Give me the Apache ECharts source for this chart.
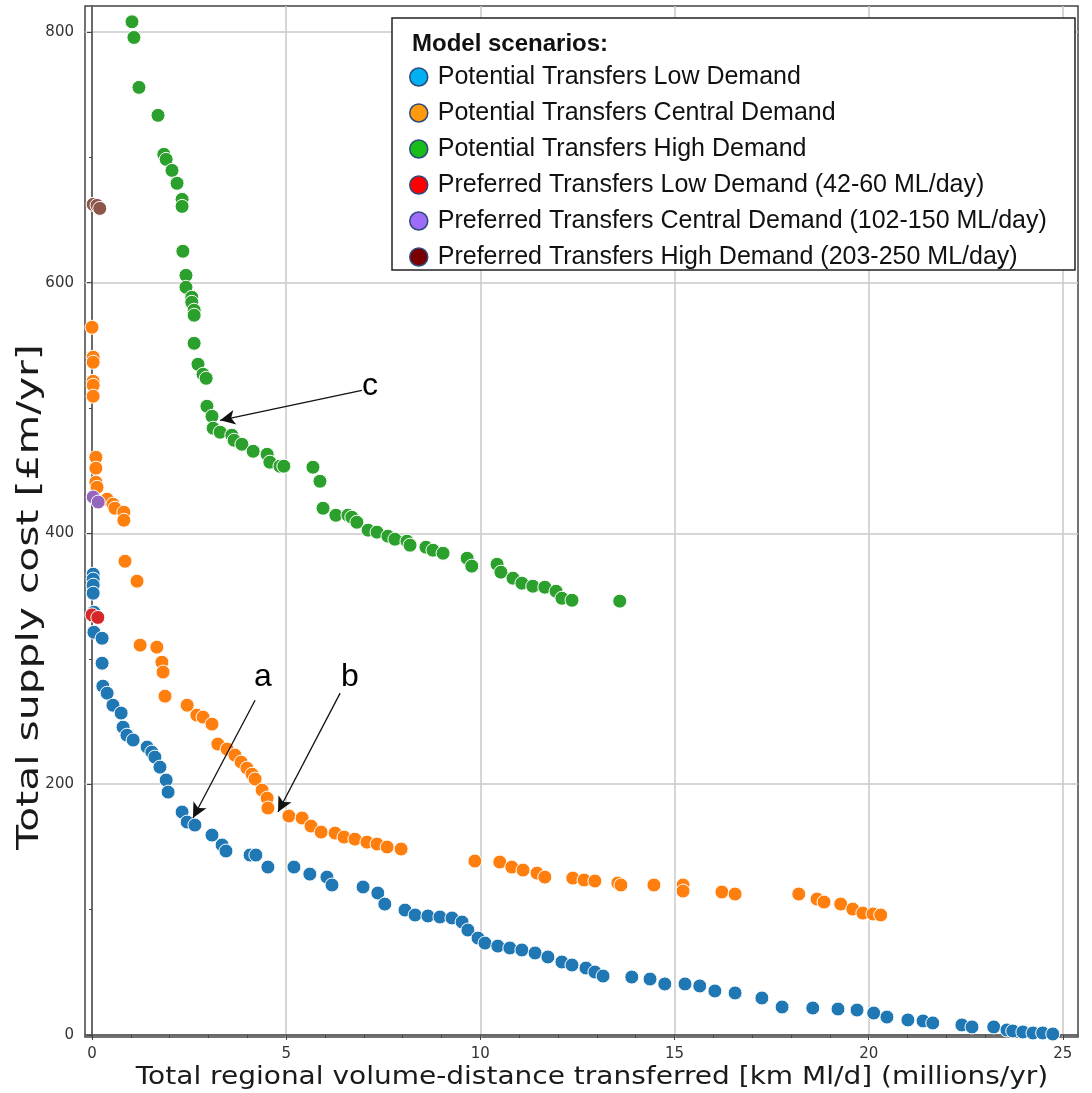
<!DOCTYPE html>
<html>
<head>
<meta charset="utf-8">
<script src="https://cdn.jsdelivr.net/npm/echarts@6/dist/echarts.min.js"></script>
<style>
html,body{margin:0;padding:0;background:#fff;}
#chart{width:1092px;height:1093px;}
</style>
</head>
<body>
<div id="chart"></div>
<script>
// ---- data (x: millions/yr, y: £m/yr) ----
const lowDemand = [
[0.03,367.5],[0.03,363.5],[0.03,358.7],[0.03,352.3],[0.05,337.2],[0.05,321.2],[0.26,316.4],[0.26,296.5],
[0.28,278.2],[0.39,272.6],[0.54,263.0],[0.75,256.7],[0.80,245.5],[0.90,239.1],[1.06,235.2],[1.42,229.6],
[1.54,225.6],[1.62,221.6],[1.75,213.6],[1.91,203.3],[1.96,193.7],[2.32,177.8],[2.45,169.8],[2.65,167.4],
[3.09,159.4],[3.35,151.5],[3.45,146.7],[4.07,143.5],[4.22,143.5],[4.53,133.9],[5.20,133.9],[5.61,128.3],
[6.05,125.9],[6.18,119.6],[6.98,118.0],[7.36,113.2],[7.54,104.4],[8.06,99.6],[8.32,95.7],[8.65,94.9],
[8.96,94.1],[9.27,93.3],[9.53,90.1],[9.68,83.7],[9.94,77.3],[10.12,73.3],[10.45,70.9],[10.76,69.4],
[11.07,67.8],[11.41,65.4],[11.74,62.2],[12.10,58.2],[12.36,55.8],[12.72,53.4],[12.95,50.2],[13.16,47.0],
[13.90,46.2],[14.37,44.6],[14.75,40.7],[15.27,40.7],[15.65,39.1],[16.04,35.1],[16.56,33.5],[17.25,29.5],
[17.77,22.3],[18.56,21.5],[19.21,20.7],[19.70,19.9],[20.13,17.5],[20.47,14.3],[21.01,12.0],[21.40,11.2],
[21.65,9.6],[22.40,8.0],[22.66,6.4],[23.22,6.4],[23.56,4.0],[23.71,3.2],[23.97,2.4],[24.23,1.6],
[24.48,1.6],[24.74,0.8]
];
const centralDemand = [
[0.00,564.4],[0.03,540.5],[0.03,536.5],[0.03,521.3],[0.03,518.1],[0.03,509.4],[0.10,460.7],[0.10,452.0],
[0.10,440.8],[0.13,436.8],[0.39,427.3],[0.54,423.3],[0.59,420.1],[0.82,416.9],[0.82,410.5],[0.85,377.8],
[1.16,361.9],[1.24,310.9],[1.67,309.3],[1.80,297.3],[1.83,289.4],[1.88,270.2],[2.45,263.0],[2.70,255.1],
[2.86,253.5],[3.09,247.9],[3.24,232.0],[3.48,228.0],[3.68,223.2],[3.84,217.6],[3.99,212.8],[4.12,208.0],
[4.20,204.1],[4.38,195.3],[4.51,188.9],[4.53,181.0],[5.07,174.6],[5.41,173.0],[5.64,166.6],[5.90,161.8],
[6.26,161.0],[6.49,157.8],[6.77,156.2],[7.08,153.8],[7.34,152.3],[7.60,149.9],[7.96,148.3],[9.86,138.7],
[10.50,137.9],[10.81,133.9],[11.10,131.5],[11.46,129.1],[11.66,125.9],[12.38,125.1],[12.67,123.6],[12.95,122.8],
[13.54,121.2],[13.62,119.6],[14.47,119.6],[15.22,119.6],[15.22,114.8],[16.22,114.0],[16.56,112.4],[18.20,112.4],
[18.67,108.4],[18.85,106.0],[19.28,104.4],[19.59,100.4],[19.85,97.2],[20.11,96.5],[20.31,95.7]
];
const highDemand = [
[1.03,808.0],[1.08,795.5],[1.21,755.7],[1.70,733.4],[1.85,702.3],[1.91,698.3],[2.06,689.5],[2.19,679.2],
[2.32,666.4],[2.32,660.8],[2.34,625.0],[2.42,605.8],[2.42,596.3],[2.57,588.3],[2.57,584.3],[2.63,578.0],
[2.63,574.0],[2.63,551.6],[2.73,534.9],[2.86,526.9],[2.94,523.7],[2.96,501.4],[3.09,493.4],[3.12,483.9],
[3.30,480.7],[3.60,478.3],[3.66,474.3],[3.86,471.1],[4.15,465.5],[4.51,463.1],[4.58,456.8],[4.84,453.6],
[4.94,453.6],[5.69,452.8],[5.87,441.6],[5.95,420.1],[6.28,414.5],[6.59,414.5],[6.69,412.9],[6.82,408.9],
[7.11,402.6],[7.34,401.0],[7.62,397.8],[7.80,395.4],[8.11,393.8],[8.19,390.6],[8.60,389.0],[8.78,386.6],
[9.04,384.2],[9.66,380.2],[9.78,373.9],[10.43,375.4],[10.53,369.1],[10.84,364.3],[11.07,360.3],[11.35,357.9],
[11.66,357.1],[11.95,353.9],[12.10,348.3],[12.36,346.7],[13.59,346.0]
];
const prefLow = [[0.00,335.0],[0.15,333.0]];
const prefCentral = [[0.03,429.0],[0.16,425.0]];
const prefHigh = [[0.03,662.4],[0.13,661.6],[0.20,659.2]];

const seriesNames = [
  'Potential Transfers Low Demand',
  'Potential Transfers Central Demand',
  'Potential Transfers High Demand',
  'Preferred Transfers Low Demand (42-60 ML/day)',
  'Preferred Transfers Central Demand (102-150 ML/day)',
  'Preferred Transfers High Demand (203-250 ML/day)'
];
const pointColors = ['#1f77b4','#ff7f0e','#2ca02c','#d62728','#9467bd','#8c564b'];
const legendColors = ['#00b0f0','#ff9a0e','#18bd18','#ff0000','#9d6df7','#7a0000'];

const xMajor = [0,5,10,15,20,25];
const xMinor = [1,2,3,4,6,7,8,9,11,12,13,14,16,17,18,19,21,22,23,24];
const yMajor = [0,200,400,600,800];
const yMinor = [100,300,500,700];

// annotation labels [text, x, y] and arrows [from, to]
const annotLabels = [['a',4.40,285.4],['b',6.64,285.4],['c',7.16,517.3]];
const annotArrows = [
  [[4.20,267.0],[2.60,173.0]],
  [[6.39,272.6],[4.79,177.8]],
  [[6.95,514.1],[3.30,490.2]]
];

const xTitle = 'Total regional volume-distance transferred [km Ml/d] (millions/yr)';
const yTitle = 'Total supply cost [£m/yr]';

const xMin = -0.18, xMax = 25.39, yMin = -1.6, yMax = 820.6;

const chart = echarts.init(document.getElementById('chart'), null, {renderer:'canvas'});
const tickFont = {fontFamily:'DejaVu Sans', fontSize:15, color:'#333'};
const allData = [lowDemand, centralDemand, highDemand, prefLow, prefCentral, prefHigh];

const series = allData.map((d,i)=>({
  name: seriesNames[i],
  type: 'scatter',
  data: d,
  symbol: 'circle',
  symbolSize: 14,
  itemStyle: {color: pointColors[i], borderColor:'#ffffff', borderWidth:1, opacity:1},
  emphasis: {disabled:true},
  z: 2 + i,
  animation: false
}));
series.push({
  name: 'annotations',
  type: 'line',
  data: [],
  silent: true,
  animation: false,
  z: 20,
  markPoint: {
    silent: true,
    animation: false,
    symbol: 'circle',
    symbolSize: 1,
    itemStyle: {color:'rgba(0,0,0,0)'},
    label: {show:true, position:'inside', formatter: p=>p.name, fontFamily:'Liberation Sans', fontSize:32, color:'#000', opacity:1},
    data: annotLabels.map(a=>({name:a[0], coord:[a[1],a[2]]}))
  },
  markLine: {
    silent: true,
    animation: false,
    symbol: ['none','arrow'],
    symbolSize: [11,15],
    label: {show:false},
    lineStyle: {color:'#111', width:1.3, type:'solid'},
    emphasis: {disabled:true},
    data: annotArrows.map(a=>[{coord:a[0]},{coord:a[1]}])
  }
});

const option = {
  backgroundColor: '#ffffff',
  animation: false,
  grid: {left:85, right:14, top:6, bottom:56, show:true, borderColor:'#444', borderWidth:1.5, backgroundColor:'transparent'},
  xAxis: [{
    type:'value', min:xMin, max:xMax,
    axisLine:{show:true, lineStyle:{color:'#444', width:1.5}},
    axisTick:{show:true, length:5, customValues:xMajor, lineStyle:{color:'#444'}},
    axisLabel:Object.assign({customValues:xMajor, margin:10}, tickFont),
    splitLine:{show:true, lineStyle:{color:'#c8c8c8', width:1.5}}
  },{
    type:'value', min:xMin, max:xMax, position:'bottom',
    axisLine:{show:false},
    axisTick:{show:true, length:3, customValues:xMinor, lineStyle:{color:'#444'}},
    axisLabel:{show:false}, splitLine:{show:false}
  }],
  yAxis: [{
    type:'value', min:yMin, max:yMax,
    axisLine:{show:true, lineStyle:{color:'#444', width:1.5}},
    axisTick:{show:true, length:5, customValues:yMajor, lineStyle:{color:'#444'}},
    axisLabel:Object.assign({customValues:yMajor, margin:11}, tickFont),
    splitLine:{show:true, lineStyle:{color:'#c8c8c8', width:1.5}}
  },{
    type:'value', min:yMin, max:yMax, position:'left',
    axisLine:{show:false},
    axisTick:{show:true, length:3, customValues:yMinor, lineStyle:{color:'#444'}},
    axisLabel:{show:false}, splitLine:{show:false}
  }],
  title: {
    text:'Model scenarios:', left:407, top:27, z:12,
    textStyle:{fontFamily:'Liberation Sans, sans-serif', fontWeight:'bold', fontSize:24, color:'#111'}
  },
  legend: {
    orient:'vertical', left:404, top:58, z:12,
    itemWidth:18, itemHeight:18, itemGap:8,
    icon:'circle',
    selectedMode:false,
    textStyle:{fontFamily:'Liberation Sans, sans-serif', fontSize:25, color:'#111', lineHeight:28, padding:[0,0,0,5]},
    data: seriesNames.map((n,i)=>({name:n, icon:'circle', itemStyle:{color:legendColors[i], borderColor:'#2c4a7a', borderWidth:1.5}}))
  },
  graphic: [
    {type:'rect', z:11, shape:{x:392, y:18, width:683, height:252}, style:{fill:'#ffffff', stroke:'#222', lineWidth:1.5}},
    {type:'text', z:11, x:30, y:597, rotation:Math.PI/2, scaleX:1.36,
     style:{text:yTitle, fontFamily:'DejaVu Sans', fontSize:30, fill:'#1a1a1a', align:'center', verticalAlign:'middle'}},
    {type:'text', z:11, x:592, y:1077, scaleX:1.12,
     style:{text:xTitle, fontFamily:'DejaVu Sans', fontSize:25, fill:'#1a1a1a', align:'center', verticalAlign:'middle'}}
  ],
  series: series
};
chart.setOption(option);
</script>
</body>
</html>
